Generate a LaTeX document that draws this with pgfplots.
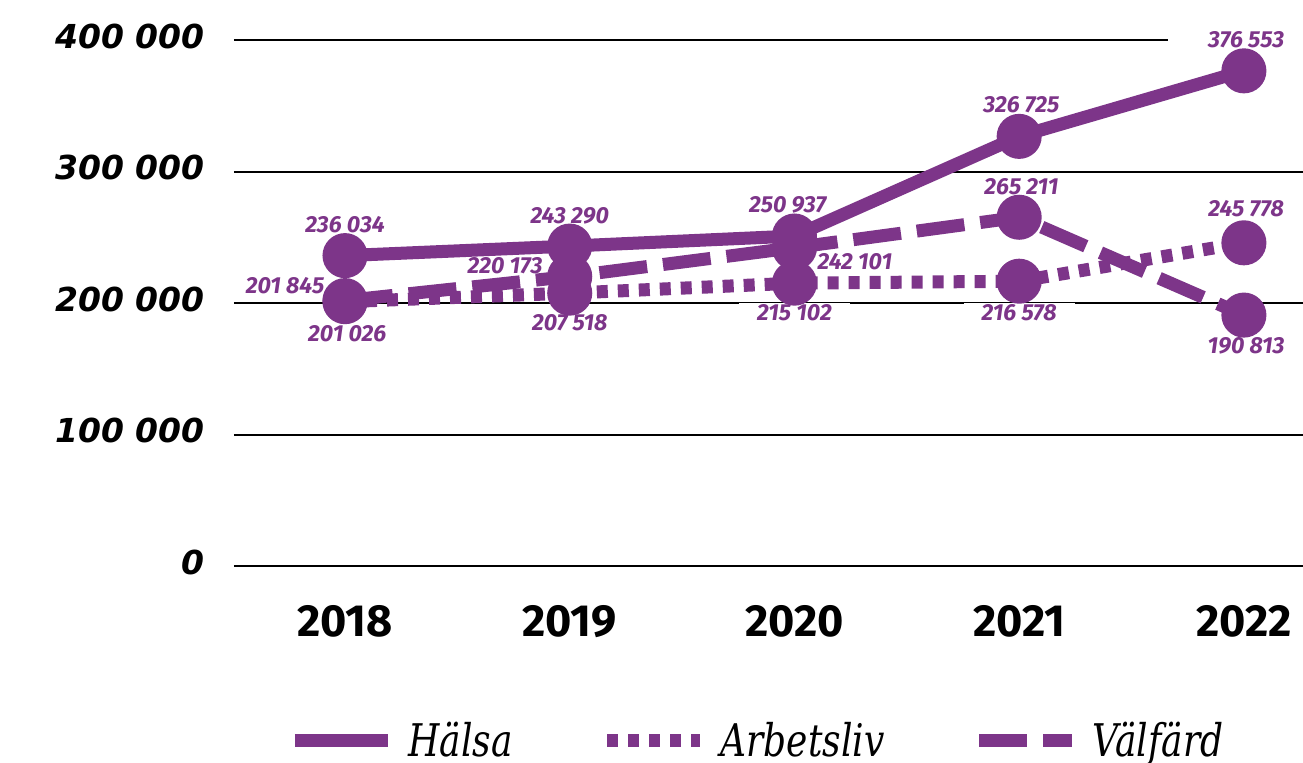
\documentclass[border=0pt]{standalone}
\usepackage{fontspec}
\usepackage{pgfplots}
\pgfplotsset{compat=1.18}
\setmainfont{Fira Sans}
\newfontfamily\tickfont{DejaVu Sans}
\newfontfamily\legfont[FakeStretch=0.8]{DejaVu Serif}
\definecolor{vp}{RGB}{125,53,137}
\newcommand{\lab}[4][9pt]{\node[fill=white, inner xsep=#1, inner ysep=1pt, text=vp, font=\bfseries\itshape\fontsize{11.6}{13}\selectfont] at (axis cs:#2,#3) {#4};}
\begin{document}
\begin{tikzpicture}
\useasboundingbox (-117pt,-98pt) rectangle (534.5pt,283pt);
\begin{axis}[
  scale only axis, width=534.5pt, height=263pt,
  xmin=2017.506, xmax=2022.263, ymin=0, ymax=400000,
  axis line style={draw=none}, major tick length=0pt,
  scaled y ticks=false,
  xtick={2018,2019,2020,2021,2022},
  xticklabels={2018,2019,2020,2021,2022},
  ytick={0,100000,200000,300000,400000},
  yticklabels={0,100 000,200 000,300 000,400 000},
  ymajorgrids, grid style={black, line width=1pt},
  yticklabel style={font=\tickfont\bfseries\itshape\fontsize{16.5}{18}\selectfont, anchor=east, inner sep=0pt, xshift=-14.5pt, yshift=2pt},
  xticklabel style={font=\bfseries\fontsize{22.5}{24}\selectfont, anchor=north, inner sep=0pt, yshift=-19.5pt},
  clip=false,
  legend style={draw=none, fill=none, at={(0.49,-0.332)}, anchor=center, legend columns=3,
    font=\legfont\itshape\fontsize{22.5}{24}\selectfont,
    /tikz/every even column/.append style={column sep=42pt},
    /tikz/every odd column/.append style={column sep=5pt}},
  legend image code/.code={\draw[#1, mark=none] (0pt,0pt) -- (46.5pt,0pt);},
]
\lab{2018}{259300}{236 034}
\lab{2019}{266160}{243 290}
\lab{2019.97}{274520}{250 937}
\lab{2021.01}{350570}{326 725}
\lab[20pt]{2022.01}{400000}{376 553}
\lab{2018.01}{176400}{201 026}
\lab{2019}{184790}{207 518}
\lab{2020}{192400}{215 102}
\lab{2021}{192400}{216 578}
\lab{2022.01}{271480}{245 778}
\lab{2017.733}{212930}{201 845}
\lab{2018.712}{228140}{220 173}
\lab{2020.269}{231180}{242 101}
\lab{2021.01}{288210}{265 211}
\lab{2022.01}{167300}{190 813}
\addplot[vp, line width=6.5pt, line cap=butt, mark=*, mark size=8pt, mark options={solid, draw=none, fill=vp}]
  coordinates {(2018,236034) (2019,243290) (2020,250937) (2021,326725) (2022,376553)};
\addlegendentry{Hälsa}
\addplot[vp, line width=6.5pt, line cap=butt, dash pattern=on 5.5pt off 5pt, mark=*, mark size=8pt, mark options={solid, draw=none, fill=vp}]
  coordinates {(2018,201026) (2019,207518) (2020,215102) (2021,216578) (2022,245778)};
\addlegendentry{Arbetsliv}
\addplot[vp, line width=6.5pt, line cap=butt, dash pattern=on 24pt off 8pt, mark=*, mark size=8pt, mark options={solid, draw=none, fill=vp}]
  coordinates {(2018,201845) (2019,220173) (2020,242101) (2021,265211) (2022,190813)};
\addlegendentry{Välfärd}
\end{axis}
\end{tikzpicture}
\end{document}
